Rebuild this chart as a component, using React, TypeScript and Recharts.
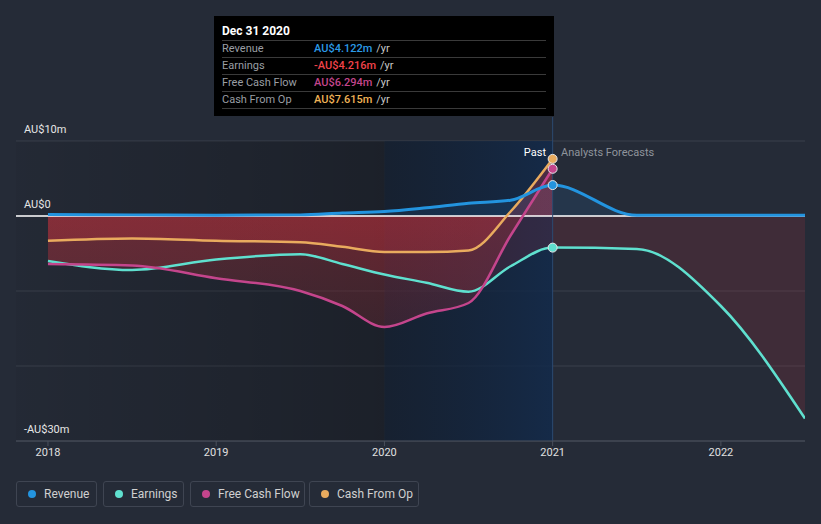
import React from 'react';
import { ComposedChart, Line, Area, XAxis, YAxis, CartesianGrid, ReferenceArea, ReferenceLine } from 'recharts';

document.body.style.margin = '0';

// time axis (years) and series values in AU$m
const years = [2018, 2018.5, 2019, 2019.5, 2019.75, 2020, 2020.25, 2020.5, 2020.75, 2021, 2021.5, 2022, 2022.5];
const revenue = [0.2, 0.15, 0.1, 0.15, 0.4, 0.6, 1.1, 1.7, 2.1, 4.122, 0.1, 0.1, 0.1];
const earnings = [-6.0, -7.2, -5.8, -5.1, -6.4, -7.8, -8.9, -10.1, -6.7, -4.216, -4.4, -12.0, -27.0];
const freeCashFlow = [-6.4, -6.6, -8.3, -10.0, -12.0, -14.8, -13.0, -11.6, -2.6, 6.294, null, null, null];
const cashFromOp = [-3.3, -3.0, -3.3, -3.5, -4.1, -4.8, -4.8, -4.6, 0.6, 7.615, null, null, null];

const yTicks = [-30, -20, -10, 0, 10];
const yLabels: Record<string, string> = { '10': 'AU$10m', '0': 'AU$0', '-30': '-AU$30m' };
const xTicks = [2018, 2019, 2020, 2021, 2022];

const COLORS = { revenue: '#2394df', earnings: '#5fe0cf', fcf: '#c4458c', cfo: '#e9ab5e' };

const tooltipRows = [
  { label: 'Revenue', value: 'AU$4.122m', color: '#2b9ae6' },
  { label: 'Earnings', value: '-AU$4.216m', color: '#f0434a' },
  { label: 'Free Cash Flow', value: 'AU$6.294m', color: '#c4458c' },
  { label: 'Cash From Op', value: 'AU$7.615m', color: '#f0b357' },
];

const legendItems = [
  { label: 'Revenue', color: COLORS.revenue, left: 16, width: 81 },
  { label: 'Earnings', color: COLORS.earnings, left: 103, width: 81 },
  { label: 'Free Cash Flow', color: COLORS.fcf, left: 190, width: 115 },
  { label: 'Cash From Op', color: COLORS.cfo, left: 309, width: 110 },
];

const data = years.map((x, i) => ({
  x,
  revenue: revenue[i],
  earnings: earnings[i],
  fcf: freeCashFlow[i] ?? undefined,
  cfo: cashFromOp[i] ?? undefined,
}));

const endDot = (color: string) => (props: any) => {
  const { cx, cy, payload, index } = props;
  if (payload.x !== 2021 || cy == null) return <g key={`d-${index}`} />;
  return <circle key={`d-${index}`} cx={cx} cy={cy} r={4.5} fill={color} stroke="#e8e8e8" strokeWidth={1} />;
};

const renderYTick = (props: any) => {
  const { y, payload } = props;
  const label = yLabels[String(payload.value)];
  if (!label) return <g key={`yt-${payload.value}`} />;
  return (
    <text key={`yt-${payload.value}`} x={24} y={y - 12} dy="0.35em" fill="#e6e6e6" fontSize={11} fontFamily="Roboto" textAnchor="start">
      {label}
    </text>
  );
};

export default function App() {
  return (
    <div style={{ position: 'relative', width: 821, height: 524, background: '#252b37', fontFamily: 'Roboto', overflow: 'hidden' }}>
      <ComposedChart width={821} height={524} data={data} margin={{ top: 117, right: 16, left: 15, bottom: 53 }}>
        <defs>
          <linearGradient id="pastBg" x1="0" y1="0" x2="1" y2="0">
            <stop offset="0%" stopColor="#000" stopOpacity={0.04} />
            <stop offset="100%" stopColor="#000" stopOpacity={0.25} />
          </linearGradient>
          <linearGradient id="recentBg" x1="0" y1="0" x2="1" y2="0">
            <stop offset="0%" stopColor="#0d1a2c" stopOpacity={0.6} />
            <stop offset="100%" stopColor="#122a4b" stopOpacity={0.85} />
          </linearGradient>
          <linearGradient id="redFill" gradientUnits="userSpaceOnUse" x1="0" y1="216" x2="0" y2="441">
            <stop offset="0%" stopColor="#c8323c" stopOpacity={0.3} />
            <stop offset="100%" stopColor="#c8323c" stopOpacity={0.08} />
          </linearGradient>
        </defs>
        <ReferenceArea x1={2017.81} x2={2020} y1={-30} y2={10} fill="url(#pastBg)" stroke="none" fillOpacity={1} />
        <ReferenceArea x1={2020} x2={2021} y1={-30} y2={10} fill="url(#recentBg)" stroke="none" fillOpacity={1} />
        <CartesianGrid vertical={false} horizontalValues={yTicks} stroke="#3a404c" />
        <XAxis
          type="number"
          dataKey="x"
          domain={[2017.81, 2022.5]}
          ticks={xTicks}
          allowDataOverflow
          height={30}
          stroke="#4a505c"
          tick={{ fill: '#e0e0e0', fontSize: 11, fontFamily: 'Roboto' }}
          tickSize={5}
        />
        <YAxis type="number" domain={[-30, 13.2]} ticks={yTicks} interval={0} width={1} axisLine={false} tickLine={false} tick={renderYTick} />
        <Area type="monotone" dataKey="earnings" baseValue={0} stroke="none" fill="#c8323c" fillOpacity={0.16} isAnimationActive={false} />
        <Area type="monotone" dataKey="fcf" baseValue={0} stroke="none" fill="url(#redFill)" fillOpacity={1} isAnimationActive={false} />
        <Area type="monotone" dataKey="cfo" baseValue={0} stroke="none" fill="url(#redFill)" fillOpacity={1} isAnimationActive={false} />
        <Area type="monotone" dataKey="revenue" baseValue={0} stroke="none" fill="#2a8fe0" fillOpacity={0.12} isAnimationActive={false} />
        <ReferenceLine y={0} stroke="#ffffff" strokeWidth={1.5} />
        <ReferenceLine x={2021} stroke="#2c4a70" strokeWidth={1} />
        <Line type="monotone" dataKey="cfo" stroke={COLORS.cfo} strokeWidth={2.5} dot={endDot(COLORS.cfo)} activeDot={false} isAnimationActive={false} />
        <Line type="monotone" dataKey="earnings" stroke={COLORS.earnings} strokeWidth={2.5} dot={endDot(COLORS.earnings)} activeDot={false} isAnimationActive={false} />
        <Line type="monotone" dataKey="fcf" stroke={COLORS.fcf} strokeWidth={2.5} dot={endDot(COLORS.fcf)} activeDot={false} isAnimationActive={false} />
        <Line type="monotone" dataKey="revenue" stroke={COLORS.revenue} strokeWidth={3} dot={endDot(COLORS.revenue)} activeDot={false} isAnimationActive={false} />
      </ComposedChart>

      {/* Past / forecast labels */}
      <div style={{ position: 'absolute', right: 821 - 546, top: 146, fontSize: 11, color: '#ffffff' }}>Past</div>
      <div style={{ position: 'absolute', left: 561, top: 146, fontSize: 11, color: '#8f949c' }}>Analysts Forecasts</div>

      {/* static tooltip */}
      <div style={{ position: 'absolute', left: 214, top: 16, width: 340, height: 100, background: '#000', boxSizing: 'border-box', padding: '0 8px' }}>
        <div style={{ height: 24, lineHeight: '30px', fontSize: 12, fontWeight: 700, color: '#fff', borderBottom: '1px solid #3a3a3a' }}>Dec 31 2020</div>
        {tooltipRows.map((r) => (
          <div key={r.label} style={{ display: 'flex', height: 16, lineHeight: '16px', fontSize: 11, borderBottom: '1px solid #3a3a3a' }}>
            <span style={{ width: 92, color: '#9a9ea4' }}>{r.label}</span>
            <span style={{ color: r.color, fontWeight: 500 }}>{r.value}</span>
            <span style={{ color: '#c8c8c8', marginLeft: 4 }}>/yr</span>
          </div>
        ))}
      </div>

      {/* legend */}
      {legendItems.map((l) => (
        <div
          key={l.label}
          style={{
            position: 'absolute',
            left: l.left,
            top: 481,
            width: l.width,
            height: 26,
            boxSizing: 'border-box',
            border: '1px solid #3f4552',
            borderRadius: 3,
            display: 'flex',
            alignItems: 'center',
            fontSize: 12,
            color: '#d0d0d0',
          }}
        >
          <span style={{ width: 8, height: 8, borderRadius: 4, background: l.color, marginLeft: 11, marginRight: 8 }} />
          {l.label}
        </div>
      ))}
    </div>
  );
}
